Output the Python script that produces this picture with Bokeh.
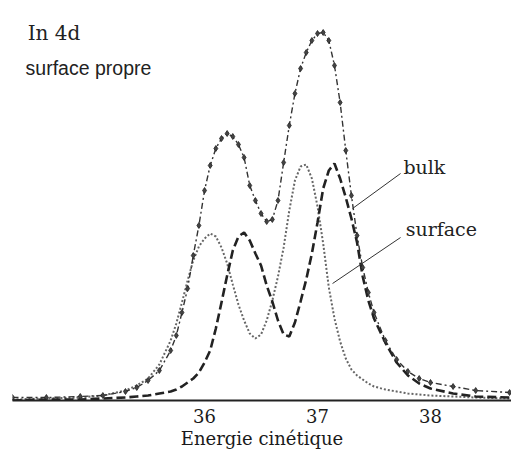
from bokeh.plotting import figure
from bokeh.models import Range1d, FixedTicker, ColumnDataSource, Label
from bokeh.embed import file_html
from bokeh.resources import INLINE

# Kinetic energy grid (eV)
energy = [34.30, 34.60, 34.90, 35.10, 35.30, 35.40, 35.50, 35.60,
          35.70, 35.75, 35.80, 35.85, 35.90, 35.95, 36.00, 36.05, 36.10, 36.15,
          36.20, 36.25, 36.30, 36.35, 36.40, 36.45, 36.50, 36.55, 36.60, 36.65,
          36.70, 36.75, 36.80, 36.85, 36.90, 36.95, 37.00, 37.05, 37.10, 37.15,
          37.20, 37.25, 37.30, 37.35, 37.40, 37.45, 37.50,
          37.60, 37.70, 37.80, 37.90, 38.00, 38.20, 38.40, 38.70]

# Measured spectrum (arbitrary units)
total = [3, 3, 4, 5, 9, 13, 20, 30,
         50, 65, 88, 112, 145, 175, 210, 235, 252, 262,
         267, 264, 256, 243, 215, 200, 187, 179, 181, 200,
         238, 275, 307, 332, 348, 360, 367, 368, 360, 335,
         298, 250, 205, 165, 133, 108, 88,
         60, 41, 29, 22, 18, 14, 10, 8]

# Surface component
surface = [1, 2, 3, 5, 10, 15, 22, 36,
           60, 77, 98, 120, 140, 154, 162, 167, 164, 153,
           137, 116, 96, 80, 67, 62, 66, 80, 100, 124,
           153, 190, 220, 234, 236, 222, 194, 157, 113, 82,
           59, 42, 31, 25, 21, 17, 14,
           11, 9, 7, 6, 5, 4, 3, 2]

# Bulk component
bulk = [0, 1, 1, 2, 3, 4, 5, 7,
        9, 11, 14, 18, 22, 28, 38, 50, 72, 98,
        125, 150, 164, 168, 160, 147, 135, 115, 99, 80,
        66, 64, 78, 99, 121, 147, 178, 212, 230, 237,
        222, 203, 182, 158, 124, 100, 82,
        58, 38, 25, 17, 12, 7, 4, 3]

tick_values = [36, 37, 38]

src = ColumnDataSource(dict(e=energy, t=total, s=surface, b=bulk))

p = figure(width=511, height=457, output_backend="svg", toolbar_location=None,
           x_range=Range1d(34.30, 38.717), y_range=Range1d(0, 400),
           min_border_left=12, min_border_right=0, min_border_top=0,
           min_border_bottom=57)
p.outline_line_color = None
p.xgrid.visible = False
p.ygrid.visible = False
p.yaxis.visible = False
p.background_fill_color = "white"

ax = p.xaxis[0]
ax.ticker = FixedTicker(ticks=tick_values)
ax.major_tick_out = 0
ax.major_tick_in = 0
ax.minor_tick_out = 0
ax.minor_tick_in = 0
ax.axis_line_width = 2
ax.axis_line_color = "#222222"
ax.major_label_text_font = "DejaVu Serif"
ax.major_label_text_font_size = "18px"
ax.major_label_text_color = "#1a1a1a"
ax.major_label_standoff = 8
ax.axis_label = "Energie cinétique"
ax.axis_label_text_font = "DejaVu Serif"
ax.axis_label_text_font_size = "18px"
ax.axis_label_text_font_style = "normal"
ax.axis_label_text_color = "#1a1a1a"
ax.axis_label_standoff = 2

# components
p.line("e", "s", source=src, line_color="#666666", line_width=2, line_dash="2 2")
p.line("e", "b", source=src, line_color="#222222", line_width=2.6, line_dash="9 4")
# measured spectrum
p.line("e", "t", source=src, line_color="#333333", line_width=1.4, line_dash="6 3 2 3")
p.scatter("e", "t", source=src, marker="diamond", size=6,
          fill_color="#444444", line_color="#222222", line_width=0.8)

# leader lines
p.segment(x0=[37.735, 37.735], y0=[227, 163], x1=[37.31, 37.133], y1=[192, 117],
          line_color="#333333", line_width=1)

p.add_layout(Label(x=37.76, y=234, text="bulk", text_font="DejaVu Serif",
                   text_font_size="19px", text_baseline="middle", text_color="#222222"))
p.add_layout(Label(x=37.78, y=172, text="surface", text_font="DejaVu Serif",
                   text_font_size="19px", text_baseline="middle", text_color="#222222"))
p.add_layout(Label(x=34.434, y=368, text="In 4d", text_font="DejaVu Serif",
                   text_font_size="20px", text_baseline="alphabetic", text_color="#222222"))
p.add_layout(Label(x=34.416, y=333, text="surface propre", text_font="Liberation Sans",
                   text_font_size="19.5px", text_baseline="alphabetic", text_color="#222222"))

open("out.html", "w").write(file_html(p, INLINE))
